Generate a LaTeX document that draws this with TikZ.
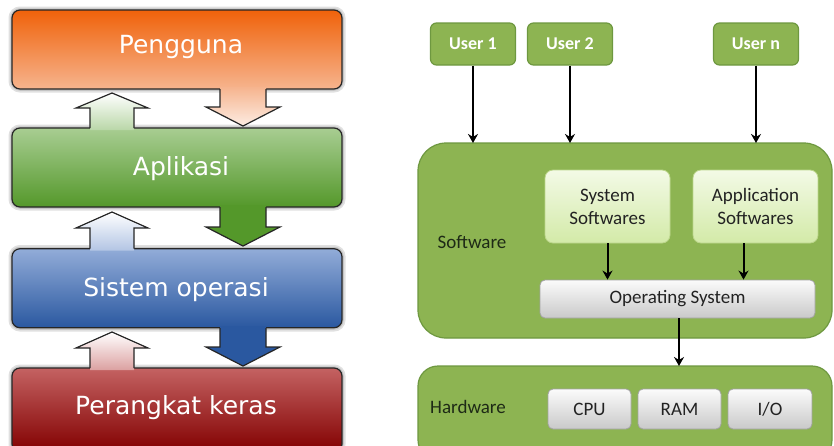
\documentclass[tikz,border=0pt]{standalone}
\usepackage{fontspec}
\newfontfamily\lfont{DejaVu Sans}
\newfontfamily\rfont{Carlito}
\usetikzlibrary{arrows.meta}
\definecolor{orgT}{HTML}{F0620A}
\definecolor{orgM}{HTML}{F27A30}
\definecolor{orgB}{HTML}{F6B48E}
\definecolor{grnT}{HTML}{A8CD92}
\definecolor{grnM}{HTML}{5A9F2E}
\definecolor{grnB}{HTML}{54982A}
\definecolor{bluT}{HTML}{92ACD8}
\definecolor{bluM}{HTML}{3966B0}
\definecolor{bluB}{HTML}{2A58A0}
\definecolor{redT}{HTML}{C46262}
\definecolor{redM}{HTML}{980F0F}
\definecolor{redB}{HTML}{820000}
\definecolor{rg}{HTML}{8DB452}
\definecolor{rgD}{HTML}{6E9840}
\definecolor{lgT}{HTML}{F3FAE6}
\definecolor{lgB}{HTML}{D3EAA8}
\definecolor{lgD}{HTML}{BCD68C}
\definecolor{gyT}{HTML}{FBFBFB}
\definecolor{gyB}{HTML}{C9C9C9}
\definecolor{gyD}{HTML}{A3A3A3}
\definecolor{lbl}{HTML}{1E2A16}
\definecolor{txt}{HTML}{222222}
\tikzset{
  lbox/.style={draw=black!85, line width=1.2pt, rounded corners=8pt,
    minimum width=330pt, minimum height=79pt, inner sep=0pt},
  ltext/.style={text=white, font=\lfont\fontsize{25}{30}\selectfont},
  halo/.style={draw=black, rounded corners=8pt, line width=#1, opacity=0.12},
  arrline/.style={draw=black!85, line width=1.2pt, line join=miter},
  gbox/.style={draw=rgD, line width=1.2pt, fill=rg},
  ubox/.style={gbox, rounded corners=6pt, minimum width=85pt, minimum height=42pt,
    inner sep=0pt, text=white, font=\rfont\bfseries\fontsize{18}{22}\selectfont},
  inbox/.style={draw=lgD, line width=0.8pt, top color=lgT, bottom color=lgB,
    rounded corners=8pt, minimum width=125pt, minimum height=73pt, inner sep=0pt,
    align=center, text=txt, font=\rfont\fontsize{19}{23}\selectfont},
  gybox/.style={draw=gyD, line width=0.8pt, top color=gyT, bottom color=gyB,
    rounded corners=5pt, inner sep=0pt, text=txt, font=\rfont\fontsize{19}{23}\selectfont},
  lab/.style={text=lbl, font=\rfont\fontsize{19}{23}\selectfont},
  conn/.style={draw=black, line width=2pt, -{Stealth[length=9pt,width=10pt]}},
}
\begin{document}
\begin{tikzpicture}[x=1pt,y=-1pt]
\useasboundingbox (0,0) rectangle (834,445);
\fill[white] (0,0) rectangle (834,445);

% ---------- left panel ----------
\foreach \yy/\hh in {10/79,128/79,248.5/79.5,368/84}{
  \draw[halo=7pt] (12,\yy) rectangle (342,\yy+\hh);
  \draw[halo=3.5pt] (12,\yy) rectangle (342,\yy+\hh);
}
\node[lbox, top color=orgT, middle color=orgM, bottom color=orgB] (peng) at (177,49.5) {};
\node[lbox, top color=grnT, middle color=grnM, bottom color=grnB] (apl) at (177,167.5) {};
\node[lbox, top color=bluT, middle color=bluM, bottom color=bluB] (sis) at (177,288.25) {};
\node[lbox, minimum height=84pt, top color=redT, middle color=redM, bottom color=redB] (per) at (177,410) {};

\node[ltext] (tpeng) at (181,47) {Pengguna};
\node[ltext] (tapl) at (181,169) {Aplikasi};
\node[ltext] (tsis) at (176,290) {Sistem operasi};
\node[ltext] (tper) at (176,408) {Perangkat keras};

% down arrows
\shade[top color=orgB, bottom color=orgB!25!white]
  (220,87) -- (220,107) -- (206,107) -- (243,126) -- (280,107) -- (266,107) -- (266,87) -- cycle;
\draw[arrline] (220,89) -- (220,107) -- (206,107) -- (243,126) -- (280,107) -- (266,107) -- (266,89);
\fill[grnB]
  (220,205) -- (220,227) -- (206,227) -- (243,246) -- (280,227) -- (266,227) -- (266,205) -- cycle;
\draw[arrline] (220,207) -- (220,227) -- (206,227) -- (243,246) -- (280,227) -- (266,227) -- (266,207);
\fill[bluB]
  (220,326) -- (220,347) -- (206,347) -- (243,366) -- (280,347) -- (266,347) -- (266,326) -- cycle;
\draw[arrline] (220,328) -- (220,347) -- (206,347) -- (243,366) -- (280,347) -- (266,347) -- (266,328);

% up arrows
\shade[top color=white, bottom color=grnT!80!white]
  (90,130) -- (90,108) -- (76,108) -- (112,93) -- (148,108) -- (134,108) -- (134,130) -- cycle;
\draw[arrline] (90,128) -- (90,108) -- (76,108) -- (112,93) -- (148,108) -- (134,108) -- (134,128);
\shade[top color=white, bottom color=bluT!70!white]
  (90,250.5) -- (90,228) -- (76,228) -- (112,212) -- (148,228) -- (134,228) -- (134,250.5) -- cycle;
\draw[arrline] (90,248.5) -- (90,228) -- (76,228) -- (112,212) -- (148,228) -- (134,228) -- (134,248.5);
\shade[top color=white, bottom color=redT!60!white]
  (90,370) -- (90,348) -- (76,348) -- (112,332) -- (148,348) -- (134,348) -- (134,370) -- cycle;
\draw[arrline] (90,368) -- (90,348) -- (76,348) -- (112,332) -- (148,348) -- (134,348) -- (134,368);

% ---------- right panel ----------
\node[ubox] (u1) at (473,44) {User 1};
\node[ubox] (u2) at (570,44) {User 2};
\node[ubox] (un) at (756,44) {User n};

\path[gbox, rounded corners=28pt] (418,143) rectangle (832,338);
\coordinate (swtop) at (600,143);
\path[gbox, rounded corners=20pt] (418,366) rectangle (832,460);
\coordinate (hwtop) at (600,366);

\node[lab] (swl) at (472,242) {Software};
\node[lab] (hwl) at (468,407) {Hardware};

\node[inbox] (sys) at (607.5,206.5) {System\\Softwares};
\node[inbox] (app) at (755.5,206.5) {Application\\Softwares};
\node[gybox, minimum width=275pt, minimum height=38pt] (os) at (677.5,299) {Operating System};
\node[gybox, minimum width=83pt, minimum height=40pt] (cpu) at (589.5,409) {CPU};
\node[gybox, minimum width=83pt, minimum height=40pt] (ram) at (679.5,409) {RAM};
\node[gybox, minimum width=84pt, minimum height=40pt] (io) at (770,409) {I/O};

\draw[conn] (u1.south) -- (u1.south |- swtop);
\draw[conn] (u2.south) -- (u2.south |- swtop);
\draw[conn] (un.south) -- (un.south |- swtop);
\draw[conn] (sys.south) -- (sys.south |- os.north);
\draw[conn] ([xshift=-12pt]app.south) -- ([xshift=-12pt]app.south |- os.north);
\draw[conn] ([xshift=1.5pt]os.south) -- ([xshift=1.5pt]os.south |- hwtop);
\end{tikzpicture}
\end{document}
